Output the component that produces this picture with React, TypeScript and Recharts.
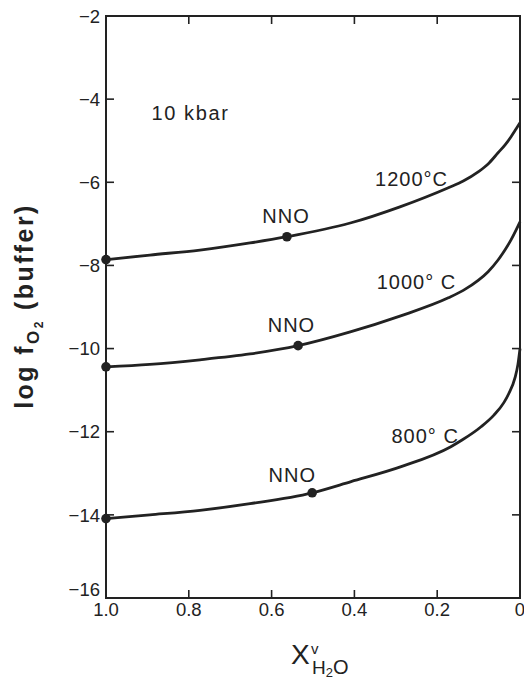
import React from 'react';
import { ComposedChart, Line, Scatter, XAxis, YAxis, ReferenceDot } from 'recharts';

const CHART_W = 524;
const CHART_H = 680;
const MARGIN = { top: 16, right: 4, bottom: 22, left: 36 };
const Y_AXIS_W = 70;
const X_AXIS_H = 60;
const PLOT_X = MARGIN.left + Y_AXIS_W;
const PLOT_Y = MARGIN.top;
const PLOT_W = CHART_W - MARGIN.left - MARGIN.right - Y_AXIS_W;
const PLOT_H = CHART_H - MARGIN.top - MARGIN.bottom - X_AXIS_H;
const TICK_LEN = 8;

// axis ticks
const xTicks = [1.0, 0.8, 0.6, 0.4, 0.2, 0];
const yTicks = [-16, -14, -12, -10, -8, -6, -4, -2];
const innerXTicks = [0.8, 0.6, 0.4, 0.2];
const innerYTicks = [-14, -12, -10, -8, -6, -4];

// 1200 °C curve
const x1200 = [1.0, 0.894, 0.773, 0.652, 0.563, 0.41, 0.29, 0.173, 0.137, 0.101, 0.077, 0.053, 0.036, 0.022, 0.0096, 0];
const y1200 = [-7.86, -7.75, -7.63, -7.46, -7.31, -6.98, -6.59, -6.13, -5.97, -5.75, -5.56, -5.29, -5.1, -4.91, -4.72, -4.57];

// 1000 °C curve
const x1000 = [1.0, 0.894, 0.773, 0.652, 0.536, 0.41, 0.29, 0.173, 0.137, 0.101, 0.077, 0.053, 0.036, 0.022, 0.0096, 0];
const y1000 = [-10.44, -10.38, -10.27, -10.13, -9.93, -9.6, -9.22, -8.78, -8.6, -8.36, -8.15, -7.87, -7.62, -7.39, -7.15, -6.95];

// 800 °C curve
const x800 = [1.0, 0.894, 0.773, 0.652, 0.502, 0.408, 0.287, 0.167, 0.14, 0.094, 0.063, 0.039, 0.027, 0.012, 0.005, 0];
const y800 = [-14.09, -14.0, -13.89, -13.73, -13.47, -13.2, -12.84, -12.36, -12.2, -11.88, -11.6, -11.3, -11.08, -10.7, -10.38, -10.0];

// marked points (pure H2O end and NNO buffer)
const markX = [1.0, 0.563, 1.0, 0.536, 1.0, 0.502];
const markY = [-7.86, -7.31, -10.44, -9.93, -14.09, -13.47];

// annotations
const noteText = ['10 kbar', '1200\u00b0C', 'NNO', '1000\u00b0 C', 'NNO', '800\u00b0 C', 'NNO'];
const noteX = [0.796, 0.262, 0.565, 0.25, 0.552, 0.229, 0.55];
const noteY = [-4.33, -5.91, -6.81, -8.39, -9.43, -12.1, -13.03];

const X_MIN = 0;
const X_MAX = 1;
const Y_MIN = -16;
const Y_MAX = -2;

const zip = (xs: number[], ys: number[]) => xs.map((x, i) => ({ x, y: ys[i] }));
const d1200 = zip(x1200, y1200);
const d1000 = zip(x1000, y1000);
const d800 = zip(x800, y800);
const marks = zip(markX, markY);
const notes = noteText.map((t, i) => ({ t, x: noteX[i], y: noteY[i] }));

const FONT = '"Liberation Sans", Arial, Helvetica, sans-serif';
const INK = '#222222';

// same linear mapping as the chart axes (x reversed), used only for the frame decorations
const fx = (v: number) => PLOT_X + ((X_MAX - v) / (X_MAX - X_MIN)) * PLOT_W;
const fy = (v: number) => PLOT_Y + ((Y_MAX - v) / (Y_MAX - Y_MIN)) * PLOT_H;

const fmtX = (v: number) => (v === 1 ? '1.0' : v === 0 ? '0' : String(v));

const YTick = (props: any) => {
  const { x, y, payload } = props;
  const v = payload.value as number;
  const yy = v === -16 ? y - 9 : y;
  return (
    <text x={x} y={yy} dy="0.36em" textAnchor="end" fontFamily={FONT} fontSize={18.5} fill={INK}>
      {'\u2212' + Math.abs(v)}
    </text>
  );
};

const XTick = (props: any) => {
  const { x, y, payload } = props;
  return (
    <text x={x} y={y} dy="0.72em" textAnchor="middle" fontFamily={FONT} fontSize={18.5} fill={INK}>
      {fmtX(payload.value)}
    </text>
  );
};

const YTitle = (props: any) => {
  const vb = props.viewBox || { x: MARGIN.left, y: MARGIN.top, width: Y_AXIS_W, height: PLOT_H };
  const bx = vb.x - 3;
  const cy = vb.y + 290;
  return (
    <text
      x={bx}
      y={cy}
      transform={`rotate(-90 ${bx} ${cy})`}
      textAnchor="middle"
      fontFamily={FONT}
      fontWeight="bold"
      fontSize={25}
      fill={INK}
      letterSpacing={2.4}
      style={{ whiteSpace: 'pre' }}
    >
      log f
      <tspan dy={6} fontSize={17}>O</tspan>
      <tspan dy={4} fontSize={12}>2</tspan>
      <tspan dy={-10} fontSize={25}>{' (buffer)'}</tspan>
    </text>
  );
};

const XTitle = (props: any) => {
  const vb = props.viewBox || { x: PLOT_X, y: PLOT_Y + PLOT_H, width: PLOT_W, height: X_AXIS_H };
  const x0 = vb.x + 185;
  const base = vb.y + 66;
  return (
    <g fontFamily={FONT} fill={INK}>
      <text x={x0} y={base} fontSize={28}>X</text>
      <text x={x0 + 20} y={base - 10} fontSize={15}>v</text>
      <text x={x0 + 21} y={base + 10} fontSize={19}>
        H
        <tspan dy={3} fontSize={13}>2</tspan>
        <tspan dy={-3} fontSize={20}>O</tspan>
      </text>
    </g>
  );
};

const NoteShape = (text: string, spacing: number) => (props: any) => {
  const { cx, cy } = props;
  return (
    <text x={cx} y={cy} dy="0.36em" textAnchor="middle" fontFamily={FONT} fontSize={20} fill={INK} letterSpacing={spacing}>
      {text}
    </text>
  );
};

const axisLineStyle = { stroke: INK, strokeWidth: 2 };

// plot frame (box) and inward tick marks on all four sides
const Frame = () => (
  <svg
    width={CHART_W}
    height={CHART_H}
    style={{ position: 'absolute', left: 0, top: 0, pointerEvents: 'none', zIndex: 5 }}
  >
    <rect x={fx(X_MAX)} y={fy(Y_MAX)} width={PLOT_W} height={PLOT_H} fill="none" stroke={INK} strokeWidth={2} />
    {innerYTicks.map((t) => (
      <g key={`y${t}`}>
        <line x1={fx(X_MAX)} y1={fy(t)} x2={fx(X_MAX) + TICK_LEN} y2={fy(t)} stroke={INK} strokeWidth={1.6} />
        <line x1={fx(X_MIN)} y1={fy(t)} x2={fx(X_MIN) - TICK_LEN} y2={fy(t)} stroke={INK} strokeWidth={1.6} />
      </g>
    ))}
    {innerXTicks.map((t) => (
      <g key={`x${t}`}>
        <line x1={fx(t)} y1={fy(Y_MIN)} x2={fx(t)} y2={fy(Y_MIN) - TICK_LEN} stroke={INK} strokeWidth={1.6} />
        <line x1={fx(t)} y1={fy(Y_MAX)} x2={fx(t)} y2={fy(Y_MAX) + TICK_LEN} stroke={INK} strokeWidth={1.6} />
      </g>
    ))}
  </svg>
);

export default function App() {
  return (
    <div style={{ position: 'fixed', left: 0, top: 0, width: CHART_W, height: CHART_H, background: '#fff' }}>
      <ComposedChart width={CHART_W} height={CHART_H} margin={MARGIN}>
        <XAxis
          dataKey="x"
          type="number"
          domain={[X_MIN, X_MAX]}
          reversed
          ticks={xTicks}
          interval={0}
          height={X_AXIS_H}
          tickSize={0}
          tickMargin={5}
          tick={<XTick />}
          axisLine={axisLineStyle}
          tickLine={false}
          label={{ content: <XTitle /> }}
        />
        <YAxis
          dataKey="y"
          type="number"
          domain={[Y_MIN, Y_MAX]}
          ticks={yTicks}
          interval={0}
          width={Y_AXIS_W}
          tickSize={0}
          tickMargin={6}
          tick={<YTick />}
          axisLine={axisLineStyle}
          tickLine={false}
          label={{ content: <YTitle /> }}
        />
        <Line data={d1200} dataKey="y" type="monotone" stroke={INK} strokeWidth={2.8} dot={false} activeDot={false} isAnimationActive={false} />
        <Line data={d1000} dataKey="y" type="monotone" stroke={INK} strokeWidth={2.8} dot={false} activeDot={false} isAnimationActive={false} />
        <Line data={d800} dataKey="y" type="monotone" stroke={INK} strokeWidth={2.8} dot={false} activeDot={false} isAnimationActive={false} />
        <Scatter
          data={marks}
          dataKey="y"
          fill={INK}
          isAnimationActive={false}
          shape={(p: any) => <circle cx={p.cx} cy={p.cy} r={4.8} fill={INK} />}
        />
        {notes.map((n, i) => (
          <ReferenceDot key={`n${i}`} x={n.x} y={n.y} r={0} ifOverflow="visible" shape={NoteShape(n.t, i === 0 ? 1.6 : 1)} />
        ))}
      </ComposedChart>
      <Frame />
    </div>
  );
}
